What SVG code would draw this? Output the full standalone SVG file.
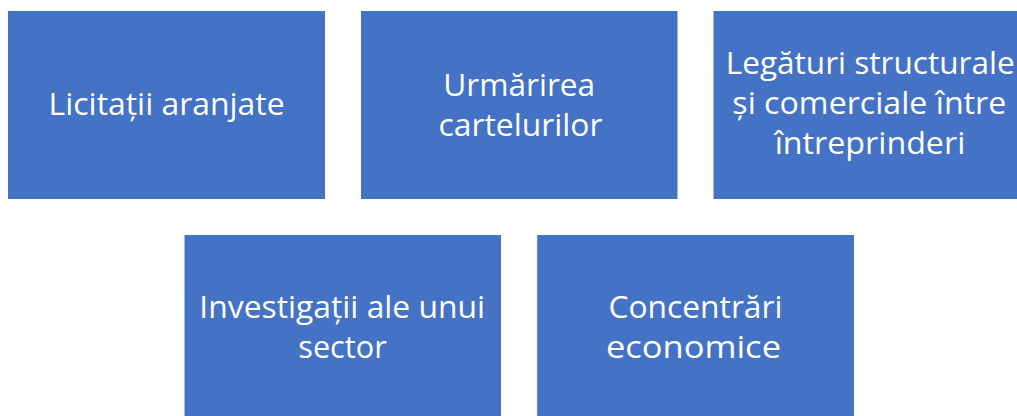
<svg xmlns="http://www.w3.org/2000/svg" width="1017" height="416" viewBox="0 0 1017 416">
<style>
.box{fill:#4472C4;stroke:#ffffff;stroke-width:1}
.lbl{fill:#ffffff;font-family:"Open Sans","Liberation Sans",sans-serif;font-size:31px;text-anchor:middle}
</style>
<rect x="0" y="0" width="1017" height="416" fill="#ffffff"/>
<g id="connectors"></g>
<g id="node1">
<rect class="box" x="7.5" y="10.5" width="318" height="189"/>
<text class="lbl" x="166.6" y="115" textLength="236" lengthAdjust="spacingAndGlyphs">Licitații aranjate</text>
</g>
<g id="node2">
<rect class="box" x="360.5" y="10.5" width="317.5" height="189"/>
<text class="lbl" x="519.2" y="96" textLength="152" lengthAdjust="spacingAndGlyphs">Urmărirea</text>
<text class="lbl" x="520.5" y="136" textLength="164" lengthAdjust="spacingAndGlyphs">cartelurilor</text>
</g>
<g id="node3">
<rect class="box" x="713" y="10.5" width="318" height="189"/>
<text class="lbl" x="870.2" y="74" textLength="289" lengthAdjust="spacingAndGlyphs">Legături structurale</text>
<text class="lbl" x="869.3" y="114" textLength="274" lengthAdjust="spacingAndGlyphs">și comerciale între</text>
<text class="lbl" x="870" y="154" textLength="190.6" lengthAdjust="spacingAndGlyphs">întreprinderi</text>
</g>
<g id="node4">
<rect class="box" x="184" y="234.5" width="317.5" height="190"/>
<text class="lbl" x="342.2" y="318" textLength="285.7" lengthAdjust="spacingAndGlyphs">Investigații ale unui</text>
<text class="lbl" x="342.5" y="358" textLength="88.4" lengthAdjust="spacingAndGlyphs">sector</text>
</g>
<g id="node5">
<rect class="box" x="536.7" y="234.5" width="317.8" height="190"/>
<text class="lbl" x="695.5" y="318" textLength="174" lengthAdjust="spacingAndGlyphs">Concentrări</text>
<text class="lbl" x="693.5" y="358" textLength="175" lengthAdjust="spacingAndGlyphs">economice</text>
</g>
</svg>
